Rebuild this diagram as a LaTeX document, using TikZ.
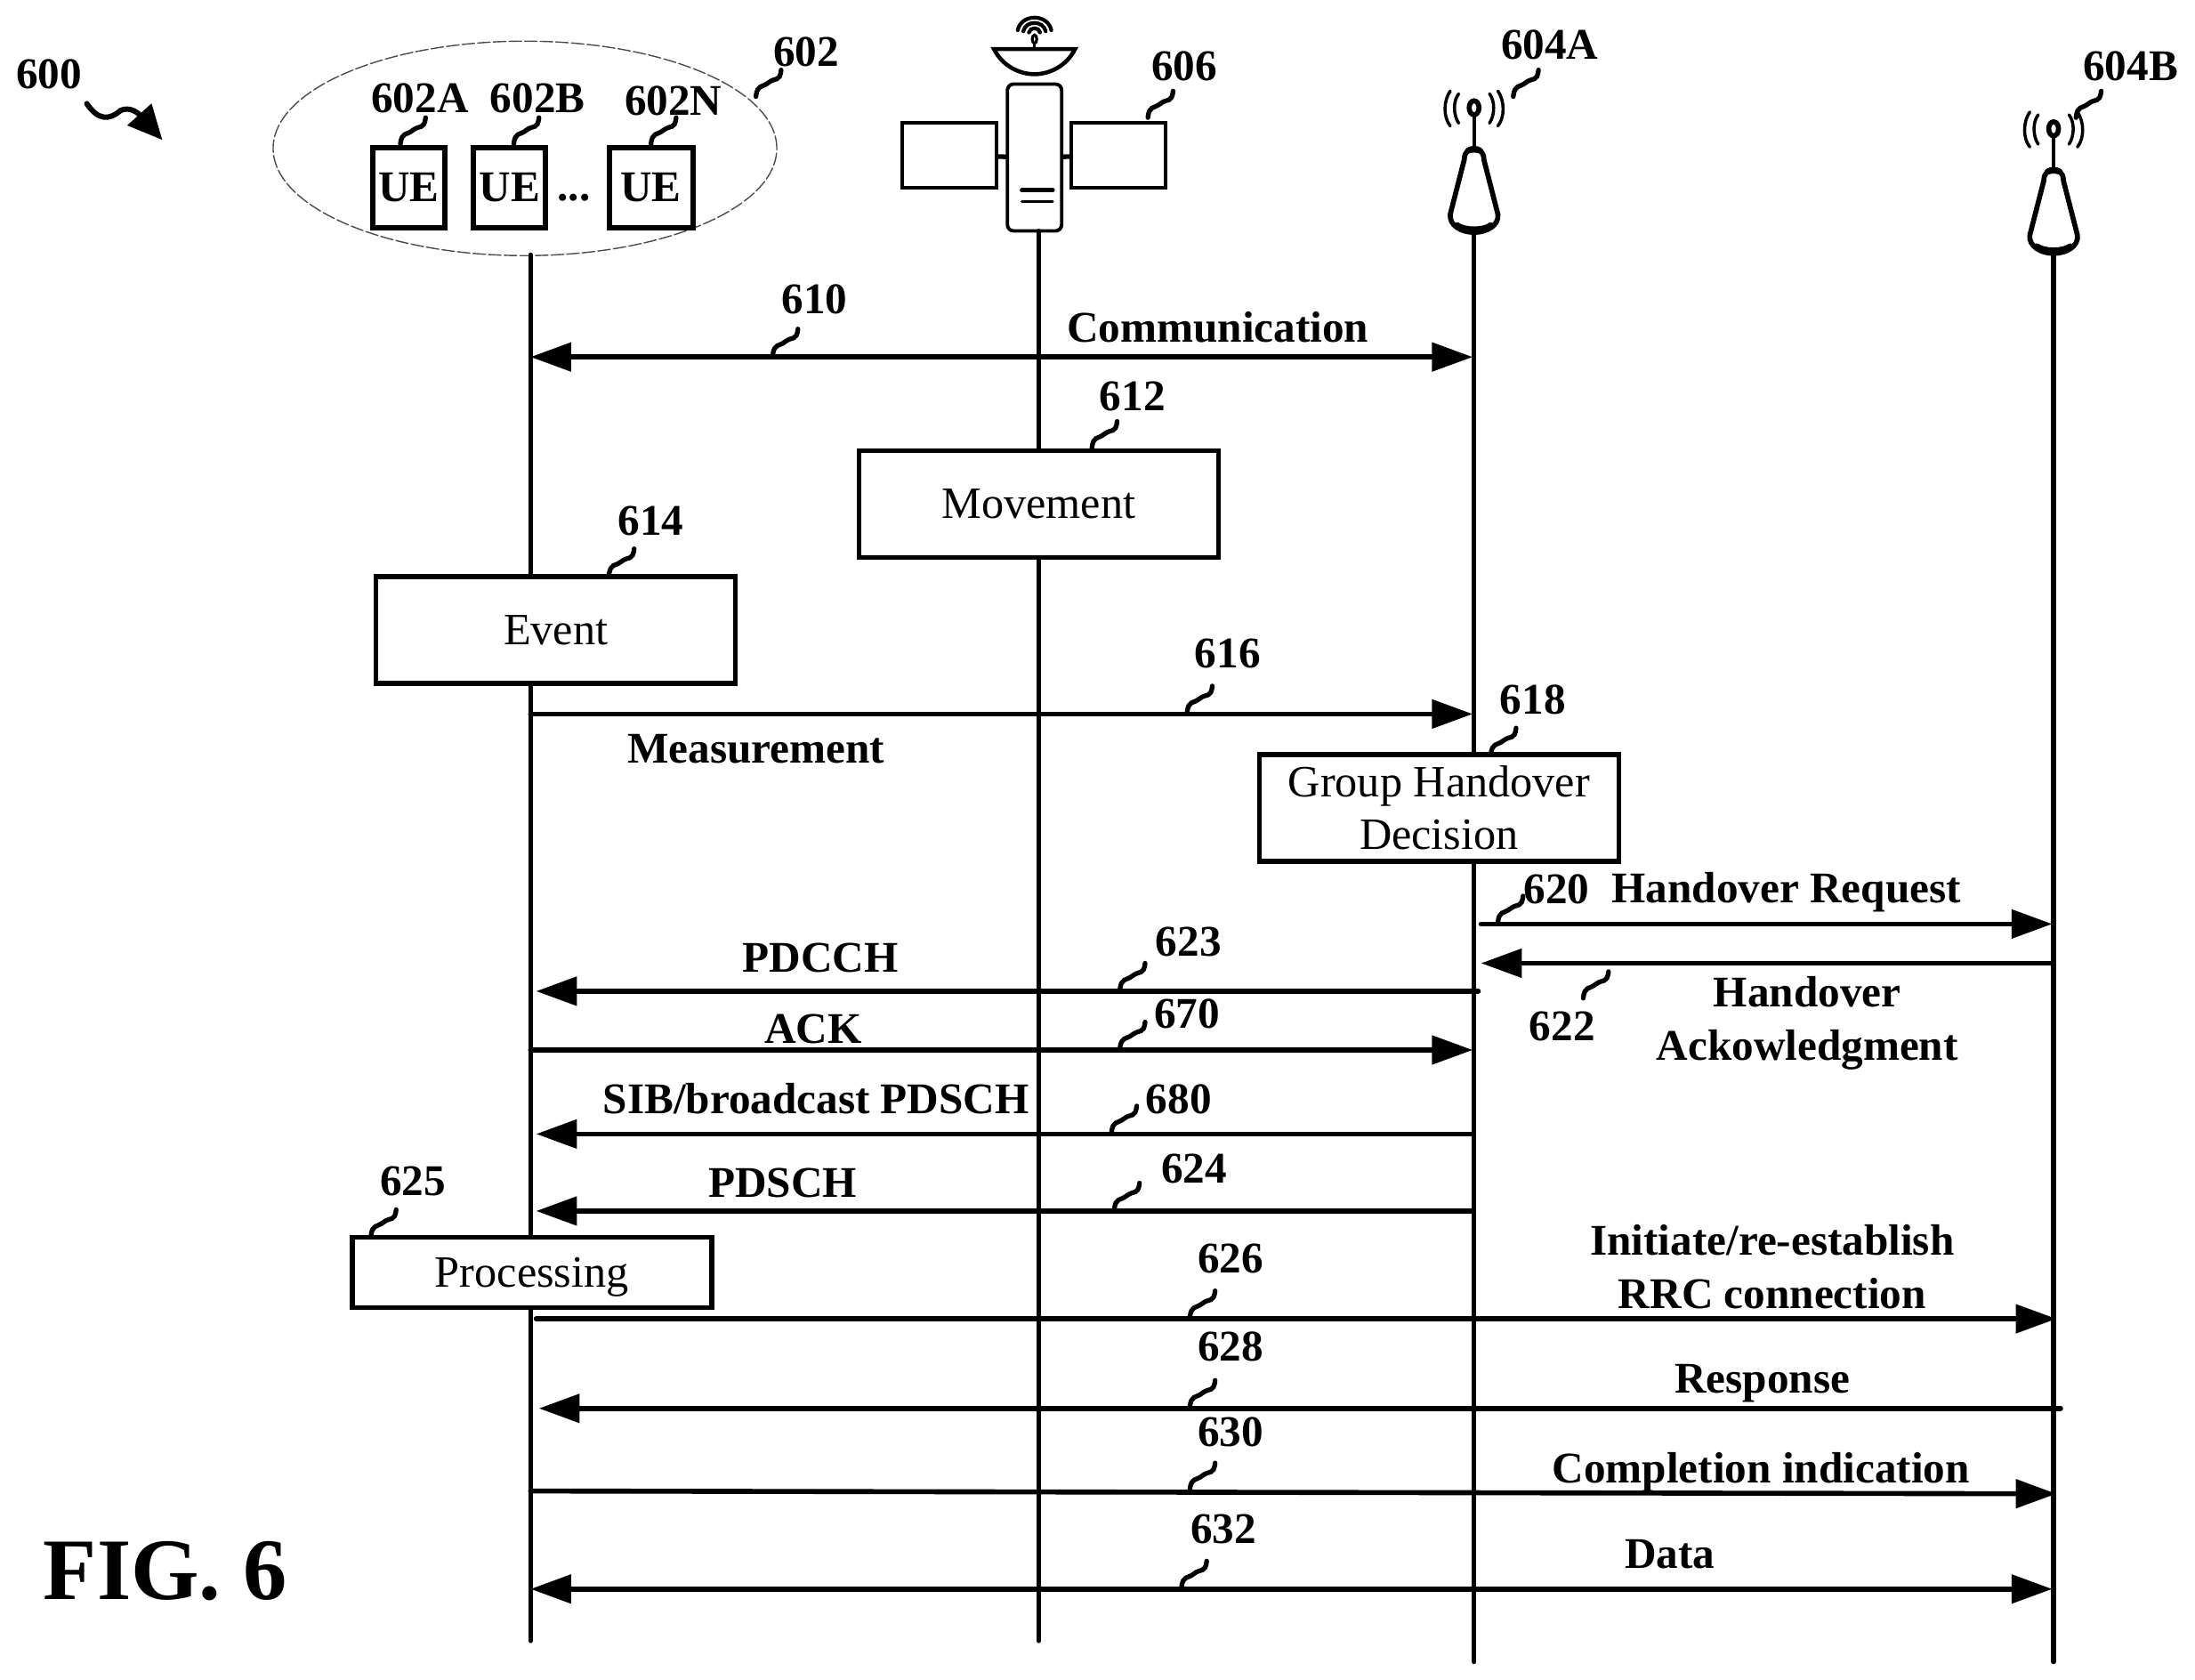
\documentclass[tikz,border=0pt]{standalone}
\usepackage{fontspec}
\setmainfont{Liberation Serif}
\usetikzlibrary{arrows.meta,shapes.geometric}

\begin{document}
\begin{tikzpicture}[x=0.015733cm,y=-0.015733cm,line cap=round]
    \tikzstyle{life}=[line width=1.5pt]
    \tikzstyle{msg}=[line width=1.6pt,-{Triangle[length=13pt,width=9pt]}]
    \tikzstyle{dmsg}=[line width=1.6pt,{Triangle[length=13pt,width=9pt]}-{Triangle[length=13pt,width=9pt]}]
    \tikzstyle{leader}=[line width=1.5pt]
    \tikzstyle{lbl}=[font=\bfseries\fontsize{14}{17}\selectfont,align=center,inner sep=0pt]
    \tikzstyle{box}=[draw=black,fill=white,line width=1.6pt,minimum width=4.04cm,minimum height=1.2cm,
        align=center,inner sep=0pt,font=\fontsize{14.3}{17}\selectfont]
    \tikzstyle{ue}=[draw=black,line width=1.7pt,minimum width=0.81cm,minimum height=0.9cm,inner sep=0pt,
        font=\bfseries\fontsize{14}{17}\selectfont]
    \tikzstyle{panel}=[draw=black,line width=1.2pt,minimum width=1.06cm,minimum height=0.73cm,inner sep=0pt]

\useasboundingbox (0,0) rectangle (1568,1200);

% group of UEs
\node[draw=black!70,dash pattern=on 4pt off 1pt,line width=0.4pt,ellipse,minimum width=5.66cm,minimum height=2.41cm,inner sep=0pt] (group) at (375,106) {};
\node[ue] (ueA) at (292,134) {UE};
\node[ue] (ueB) at (364,134) {UE};
\node[ue,minimum width=0.94cm] (ueN) at (465,134) {UE};
\node[lbl] (dots) at (410,141) {...};

% satellite
\node[panel] (panelL) at (678,111) {};
\node[panel] (panelR) at (799,111) {};
\node[draw=black,fill=white,line width=1.1pt,rounded corners=2pt,minimum width=0.61cm,minimum height=1.65cm,inner sep=0pt] (sat) at (739,112.5) {};
\draw[line width=1.5pt] (panelL) -- (sat);
\draw[line width=1.5pt] (panelR) -- (sat);
\draw[line width=1.4pt] (730,136) -- (752,136);
\draw[line width=0.9pt] (730,144) -- (752,144);
\draw[line width=1.3pt] (710,35) -- (768,35) .. controls (762,47) and (750,53) .. (739,53) .. controls (728,53) and (716,47) .. cycle;
\draw[line width=1pt] (739,35) -- (739,31);
\draw[line width=0.9pt] (739,28) ellipse (1.6 and 3);
\foreach \r in {4,8,12}{
\draw[line width=1.2pt] (739-\r,24-\r*0.2) .. controls (739-\r*0.8,24-\r*1.2) and (739+\r*0.8,24-\r*1.2) .. (739+\r,24-\r*0.2);
};

% base stations
\foreach \x/\y/\t in {1053/0/A,1467/15/B}{
\begin{scope}[shift={(\x,\y)}]
\coordinate (tower\t) at (0,166);
\draw[line width=1.6pt] (-7,114) .. controls (-7,108) and (-3,106) .. (0,106) .. controls (3,106) and (7,108) .. (7,114)
    -- (17,153) .. controls (18,161) and (9,166) .. (0,166) .. controls (-9,166) and (-18,161) .. (-17,153) -- cycle;
\draw[line width=2pt] (-12,161) .. controls (-7,165) and (7,165) .. (12,161);
\draw[line width=2pt] (-4,107.5) .. controls (-2,106.5) and (2,106.5) .. (4,107.5);
\draw[line width=1.2pt] (0,106) -- (0,82);
\draw[line width=1.6pt] (0,77) ellipse (3.5 and 5);
\foreach \s in {-1,1}{
\draw[line width=1pt] (\s*11,67) .. controls (\s*15,72) and (\s*15,82) .. (\s*11,88);
\draw[line width=1pt] (\s*17,65) .. controls (\s*22,72) and (\s*22,84) .. (\s*17,90);
};
\end{scope}
};

% life lines
\coordinate (ueEnd) at (379,1172);
\coordinate (satEnd) at (742,1172);
\coordinate (towerAEnd) at (1053,1187);
\coordinate (towerBEnd) at (1467,1187);
\coordinate (ueTop) at (379,182);
\coordinate (satTop) at (742,165);
\draw[life] (ueTop) -- (ueEnd);
\draw[life] (satTop) -- (satEnd);
\draw[life] (towerA) -- (towerAEnd);
\draw[life] (towerB) -- (towerBEnd);

% process boxes
\node[box] (movement) at (742,360) {Movement};
\node[box] (event) at (397,450) {Event};
\node[box] (decision) at (1028,577) {Group Handover\\Decision};
\node[box,minimum height=0.79cm,text depth=0pt] (processing) at (380,909) {Processing};

% messages
\foreach \m/\xa/\ya/\xb/\yb in {
meas/379/510/1052/510,
req/1058/660/1466/660,
ack/1465/688/1058/688,
pdcch/1056/708/383/708,
harq/379/750/1052/750,
sib/1052/810/383/810,
pdsch/1052/865/383/865,
rrc/383/942/1469/942,
resp/1472/1006/385/1006,
done/379/1065/1469/1067}{
\coordinate (\m a) at (\xa,\ya);
\coordinate (\m b) at (\xb,\yb);
\draw[msg] (\m a) -- (\m b);
};
\coordinate (comma) at (379,255);
\coordinate (commb) at (1052,255);
\draw[dmsg] (comma) -- (commb);
\coordinate (dataa) at (379,1135);
\coordinate (datab) at (1466,1135);
\draw[dmsg] (dataa) -- (datab);

% message labels
\node[lbl] (lcomm) at (870,234) {Communication};
\node[lbl] (lmeas) at (540,535) {Measurement};
\node[lbl] (lreq) at (1276,637) {Handover Request};
\node[lbl] (lack) at (1291,731) {Handover\\Ackowledgment};
\node[lbl] (lpdcch) at (586,684) {PDCCH};
\node[lbl] (lharq) at (581,735) {ACK};
\node[lbl] (lsib) at (583,785) {SIB/broadcast PDSCH};
\node[lbl] (lpdsch) at (559,845) {PDSCH};
\node[lbl] (lrrc) at (1266,905) {Initiate/re-establish\\RRC connection};
\node[lbl] (lresp) at (1259,988) {Response};
\node[lbl] (ldone) at (1258,1052) {Completion indication};
\node[lbl] (ldata) at (1193,1110) {Data};

% reference numerals with their leaders
\foreach \t/\x/\y/\lx/\ly in {
602/540/69/576/37,
602A/286/103/300/70,
602B/367/103/384/70,
602N/465/103/481/72,
606/820/84/846/47,
604A/1081/69/1107/32,
604B/1483/84/1522/47,
610/552/254/582/214,
612/780/320/809/283,
614/435/411/465/372,
616/848/509/877/467,
618/1065/539/1095/500,
620/1070/659/1112/635,
622/1131/713/1116/733,
623/800/707/849/673,
670/800/749/848/724,
680/794/809/842/785,
624/796/864/853/835,
625/265/883/295/844,
626/850/941/879/899,
628/850/1005/879/962,
630/850/1064/879/1023,
632/844/1134/874/1092}{
\coordinate (s\t) at (\x,\y);
\node[lbl] (n\t) at (\lx,\ly) {\t};
\draw[leader] (s\t) .. controls +(1,-9) and +(-5,4) .. ([shift={(9,-10)}]s\t) .. controls +(5,-4) and +(-1,9) .. ([shift={(18,-19)}]s\t);
};

% figure reference
\node[lbl] (n600) at (35,53) {600};
\coordinate (figA) at (62,74);
\coordinate (figB) at (116,100);
\draw[line width=1.7pt,-{Triangle[length=11pt,width=10pt]}] (figA) .. controls (70,86) and (78,86) .. (86,79) .. controls (92,76) and (98,80) .. (figB);
\node[font=\bfseries\fontsize{28}{32}\selectfont,inner sep=0pt] (fig) at (118,1122) {FIG. 6};
\end{tikzpicture}
\end{document}
